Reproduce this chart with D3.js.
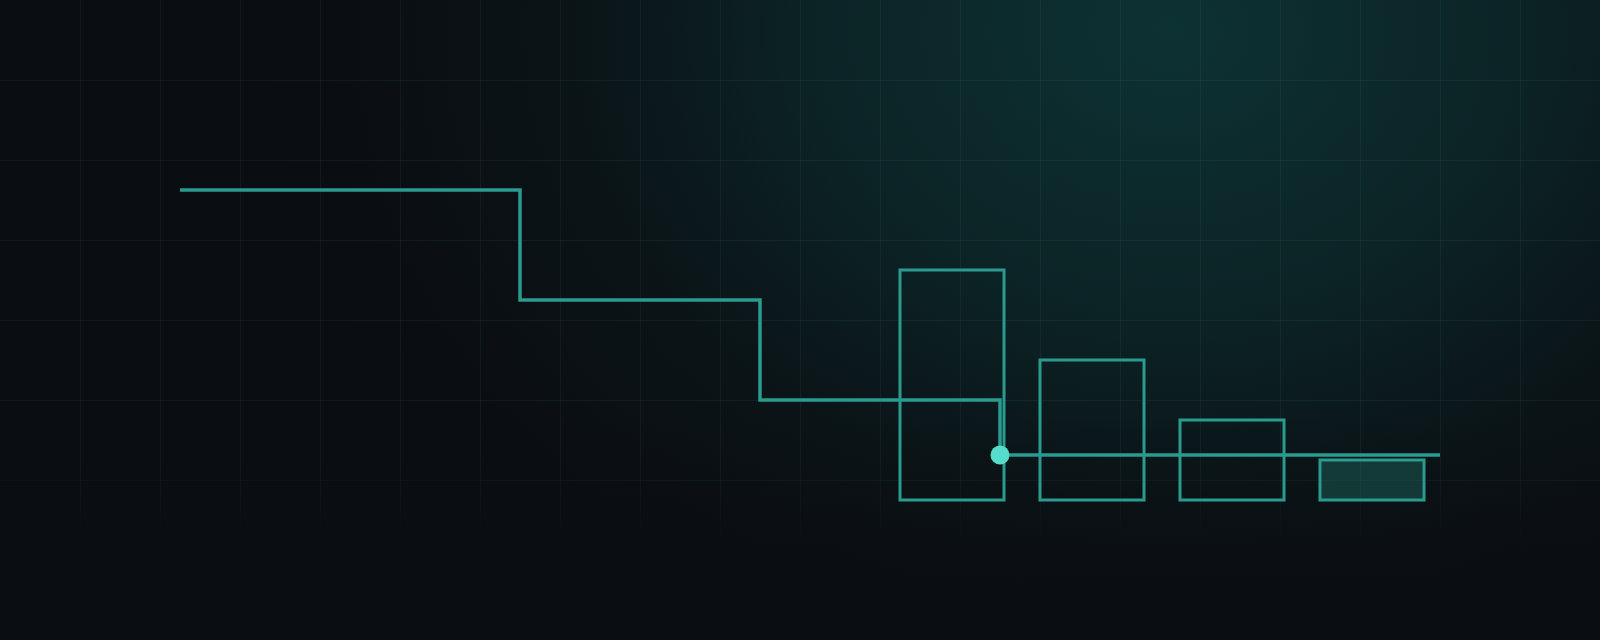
<!DOCTYPE html>
<html>
<head>
<meta charset="utf-8">
<script src="https://cdn.jsdelivr.net/npm/d3@7"></script>
<style>
  html, body { margin: 0; padding: 0; background: #0a0d11; overflow: hidden; }
</style>
</head>
<body>
<div id="chart"></div>
<script>
// step line: break points (x units) and level heights above the baseline
const stepBreaks = [2.25, 6.5, 9.5, 12.5, 18];
const stepLevels = [310, 200, 100, 45];

// bars
const barCats = ["A", "B", "C", "D"];
const barValues = [230, 140, 80, 40];
const barFilled = [false, false, false, true];

// marker sits where the last drop lands
const markerIndex = 3;

const width = 1600;
const height = 640;

const svg = d3.select("#chart")
  .append("svg")
  .attr("width", width)
  .attr("height", height);

const defs = svg.append("defs");

// background glow
const glow = defs.append("radialGradient")
  .attr("id", "glow")
  .attr("gradientUnits", "userSpaceOnUse")
  .attr("cx", 1170).attr("cy", 30).attr("r", 900)
  .attr("gradientTransform", "translate(1170,30) scale(1,0.8) translate(-1170,-30)");
glow.append("stop").attr("offset", "0%").attr("stop-color", "#0d3234").attr("stop-opacity", 1);
glow.append("stop").attr("offset", "40%").attr("stop-color", "#0c2729").attr("stop-opacity", 0.85);
glow.append("stop").attr("offset", "75%").attr("stop-color", "#0b181b").attr("stop-opacity", 0.4);
glow.append("stop").attr("offset", "100%").attr("stop-color", "#0b1417").attr("stop-opacity", 0);

const shade = defs.append("linearGradient")
  .attr("id", "shade")
  .attr("x1", 0).attr("y1", 0).attr("x2", 0).attr("y2", 1);
shade.append("stop").attr("offset", "0%").attr("stop-color", "#0a0d11").attr("stop-opacity", 0);
shade.append("stop").attr("offset", "65%").attr("stop-color", "#0a0d11").attr("stop-opacity", 0);
shade.append("stop").attr("offset", "100%").attr("stop-color", "#0a0d11").attr("stop-opacity", 0.95);

// grid fades out towards the bottom
const fade = defs.append("linearGradient")
  .attr("id", "fade")
  .attr("gradientUnits", "userSpaceOnUse")
  .attr("x1", 0).attr("y1", 0).attr("x2", 0).attr("y2", height);
fade.append("stop").attr("offset", "0%").attr("stop-color", "#fff");
fade.append("stop").attr("offset", "72%").attr("stop-color", "#fff");
fade.append("stop").attr("offset", "86%").attr("stop-color", "#000");
defs.append("mask").attr("id", "gridMask")
  .append("rect").attr("width", width).attr("height", height).attr("fill", "url(#fade)");

svg.append("rect").attr("width", width).attr("height", height).attr("fill", "#0a0d11");
svg.append("rect").attr("width", width).attr("height", height).attr("fill", "url(#glow)");
svg.append("rect").attr("width", width).attr("height", height).attr("fill", "url(#shade)");

// scales
const x = d3.scaleLinear().domain([0, 20]).range([0, width]);
const gridY = d3.scaleLinear().domain([0, 8]).range([0, height]);
const y = d3.scaleLinear().domain([0, 500]).range([500, 0]);
const xBar = d3.scaleBand()
  .domain(barCats)
  .range([882, 1442])
  .paddingInner(0.257)
  .paddingOuter(0.1285);

// grid
const grid = svg.append("g").attr("mask", "url(#gridMask)")
  .attr("stroke", "#8fd8d0")
  .attr("stroke-opacity", 0.06)
  .attr("stroke-width", 1);

grid.selectAll("line.v")
  .data(x.ticks(20).slice(1, -1))
  .enter().append("line")
  .attr("class", "v")
  .attr("x1", d => Math.round(x(d)) + 0.5).attr("x2", d => Math.round(x(d)) + 0.5)
  .attr("y1", 0).attr("y2", height);

grid.selectAll("line.h")
  .data(gridY.ticks(8).slice(1, -1))
  .enter().append("line")
  .attr("class", "h")
  .attr("y1", d => Math.round(gridY(d)) + 0.5).attr("y2", d => Math.round(gridY(d)) + 0.5)
  .attr("x1", 0).attr("x2", width);

// bars
svg.append("g")
  .selectAll("rect")
  .data(barValues)
  .enter().append("rect")
  .attr("x", (d, i) => xBar(barCats[i]))
  .attr("y", d => y(d))
  .attr("width", xBar.bandwidth())
  .attr("height", d => y(0) - y(d))
  .attr("fill", (d, i) => barFilled[i] ? "rgba(42,157,143,0.28)" : "none")
  .attr("stroke", "#2a9b8f")
  .attr("stroke-width", 3);

// step line
const stepPoints = stepLevels.map((v, i) => [stepBreaks[i], v]);
stepPoints.push([stepBreaks[stepBreaks.length - 1], stepLevels[stepLevels.length - 1]]);

const line = d3.line()
  .x(d => x(d[0]))
  .y(d => y(d[1]))
  .curve(d3.curveStepAfter);

svg.append("path")
  .datum(stepPoints)
  .attr("d", line)
  .attr("fill", "none")
  .attr("stroke", "#2a9b8f")
  .attr("stroke-width", 3.5)
  .attr("stroke-linejoin", "miter");

// marker
svg.append("circle")
  .attr("cx", x(stepBreaks[markerIndex]))
  .attr("cy", y(stepLevels[markerIndex]))
  .attr("r", 9.5)
  .attr("fill", "#55dccb");
</script>
</body>
</html>
